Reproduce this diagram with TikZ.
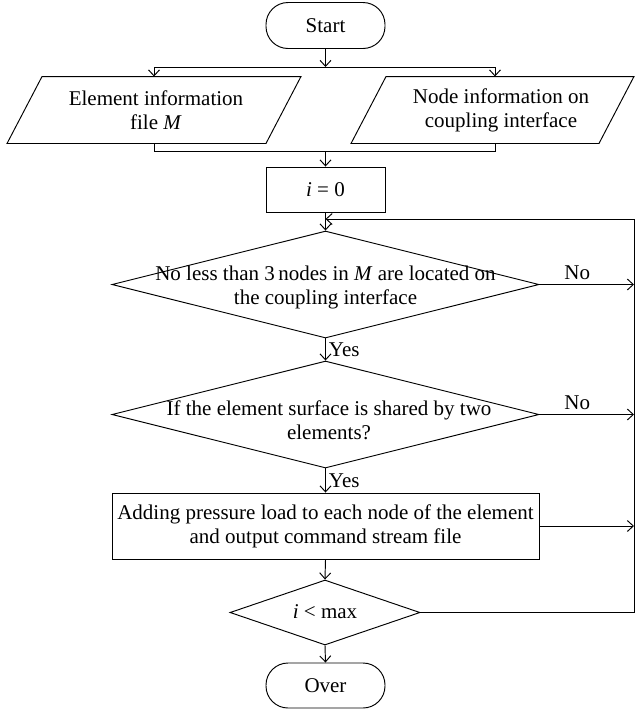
\documentclass[tikz,border=0pt]{standalone}
\usepackage{fontspec}
\setmainfont{Liberation Serif}
\usetikzlibrary{shapes.geometric,arrows.meta,calc}
\begin{document}
\begin{tikzpicture}[x=1pt,y=-1pt,
  line width=0.95pt,
  every node/.style={font=\fontsize{21}{24}\selectfont, inner sep=0pt},
  term/.style={draw, rectangle, rounded corners=22pt, minimum width=119pt, minimum height=46pt},
  procbox/.style={draw, rectangle, minimum width=#1, minimum height=45pt},
  decide/.style={draw, diamond, inner sep=0pt},
  iobox/.style={rectangle, minimum height=66pt},
  txt/.style={align=center},
  arr/.style={-{Straight Barb[length=6pt,width=11pt]}},
]
\useasboundingbox (0,0) rectangle (635,710);

% nodes
\node[term] (start) at (325.5,25.5) {Start};
\node[iobox, minimum width=258pt] (p1) at (154,110) {};
\node[iobox, minimum width=247pt] (p2) at (492.5,110) {};
\draw ($(p1.north west)+(17.5,0)$) -- ($(p1.north east)+(17.5,0)$) -- ($(p1.south east)+(-17.5,0)$) -- ($(p1.south west)+(-17.5,0)$) -- cycle;
\draw ($(p2.north west)+(17.5,0)$) -- ($(p2.north east)+(17.5,0)$) -- ($(p2.south east)+(-17.5,0)$) -- ($(p2.south west)+(-17.5,0)$) -- cycle;
\node[txt] (p1t) at (156,110) {Element information\\file \textit{M}};
\node[txt] (p2t) at (501,110) {Node information on\\coupling interface};

\node[procbox=119pt] (i0) at (325.5,189.5) {\textit{i} = 0};

\node[decide, minimum width=427pt, minimum height=107pt] (d1) at (325.5,284.5) {};
\node[txt] (d1t) at (325.5,287) {No less than 3\,nodes in \textit{M} are located on\\the coupling interface};

\node[decide, minimum width=427pt, minimum height=107pt] (d2) at (325.5,414.5) {};
\node[txt] (d2t) at (329,420) {If the element surface is shared by two\\elements?};

\node[draw, rectangle, minimum width=427pt, minimum height=66pt, txt] (b) at (325.5,526)
  {Adding pressure load to each node of the element\\and output command stream file};

\node[decide, minimum width=190pt, minimum height=65pt] (d3) at (325,612.5) {};
\node[txt] (d3t) at (325,612) {\textit{i} < max};

\node[term, minimum height=45pt] (over) at (325.5,685.5) {Over};

% helper coordinates
\coordinate (s1) at (325.5,67);
\coordinate (sL) at (154,67);
\coordinate (sR) at (495,67);
\coordinate (jL) at (154,151);
\coordinate (jR) at (495,151);
\coordinate (j) at (325.5,151);
\coordinate (rx) at (634,0);
\coordinate (lp) at (325.5,219);

% connectors
\draw[arr] (start.south) -- (s1);
\draw (sL) -- (sR);
\draw[arr] (sL) -- (sL |- p1.north);
\draw[arr] (sR) -- (sR |- p2.north);
\draw (p1.south -| jL) -- (jL) -- (jR) -- (p2.south -| jR);
\draw[arr] (j) -- (i0.north);
\draw[arr] (i0.south) -- (d1.north);
\draw[arr] (d1.south) -- node[right=3pt] (y1) {Yes} (d2.north);
\draw[arr] (d2.south) -- node[right=3pt] (y2) {Yes} (b.north);
\draw[arr] (b.south) -- (d3.north);
\draw[arr] (d3.south) -- (over.north);
\draw[arr] (d1.east) -- node[pos=0.4, above=4pt] (n1) {No} (d1.east -| rx);
\draw[arr] (d2.east) -- node[pos=0.4, above=4pt] (n2) {No} (d2.east -| rx);
\draw[arr] (b.east) -- (b.east -| rx);
\draw[arr] (d3.east) -- (d3.east -| rx) -- (rx |- lp) -- (lp);
\end{tikzpicture}
\end{document}
